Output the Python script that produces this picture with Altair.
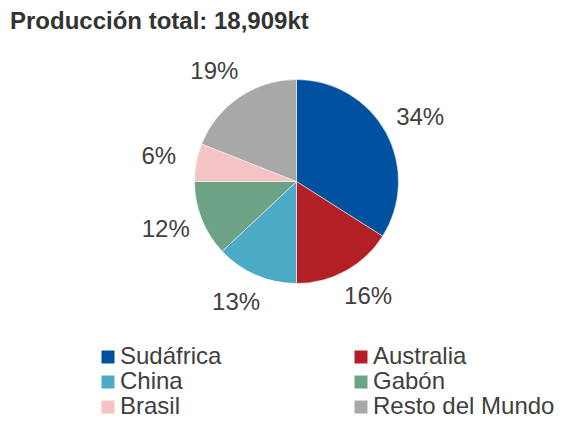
import altair as alt
import pandas as pd

paises = ["Sudáfrica", "Australia", "China", "Gabón", "Brasil", "Resto del Mundo"]
valores = [34, 16, 13, 12, 6, 19]
etiquetas = ["34%", "16%", "13%", "12%", "6%", "19%"]
colores = ["#0052A0", "#B22025", "#4BABC6", "#6DA287", "#F4C3C4", "#A8A8A8"]

df = pd.DataFrame({
    "pais": paises,
    "valor": valores,
    "etiqueta": etiquetas,
    "orden": list(range(len(paises))),
})

CX, CY, R = 288.5, 147.5, 102
FONT = "Liberation Sans"

base = alt.Chart(df).transform_window(
    cum="sum(valor)", sort=[alt.SortField("orden")], frame=[None, 0]
).transform_joinaggregate(
    total="sum(valor)"
).transform_calculate(
    mid="datum.cum - datum.valor / 2",
    derecha="datum.cum - datum.valor / 2 < datum.total / 2",
)

pie = base.mark_arc(outerRadius=R, stroke="white", strokeWidth=0.5).encode(
    theta=alt.Theta("valor:Q", stack=True),
    order=alt.Order("orden:Q"),
    x=alt.value(CX),
    y=alt.value(CY),
    color=alt.Color(
        "pais:N",
        scale=alt.Scale(domain=paises, range=colores),
        sort=None,
        legend=alt.Legend(
            title=None,
            orient="none",
            direction="horizontal",
            legendX=88,
            legendY=311,
            columns=2,
            columnPadding=127,
            rowPadding=1,
            symbolType="square",
            symbolSize=169,
            symbolStrokeWidth=0,
            labelFontSize=24,
            labelFont=FONT,
            labelColor="#404040",
            labelOffset=0,
            labelLimit=300,
        ),
    ),
)

def etiquetas_lado(derecha, dx):
    return base.transform_filter(
        "datum.derecha" if derecha else "!datum.derecha"
    ).mark_text(radius=132, fontSize=24, font=FONT, color="#404040",
                align="center", baseline="middle", dx=dx).encode(
        theta=alt.Theta("mid:Q", stack=None),
        x=alt.value(CX),
        y=alt.value(CY),
        text="etiqueta:N",
    )

chart = alt.layer(pie, etiquetas_lado(True, 8), etiquetas_lado(False, -8)).properties(
    width=548,
    height=381,
    autosize="none",
    padding={"left": 0, "top": 26, "right": 0, "bottom": 0},
    title=alt.TitleParams(
        "Producción total: 18,909kt",
        anchor="start",
        fontSize=24,
        font=FONT,
        fontWeight="bold",
        color="#333333",
        offset=0,
        dx=2,
    ),
).configure_view(stroke=None)

chart.save("out.html", embed_options={"renderer": "svg", "actions": False})
